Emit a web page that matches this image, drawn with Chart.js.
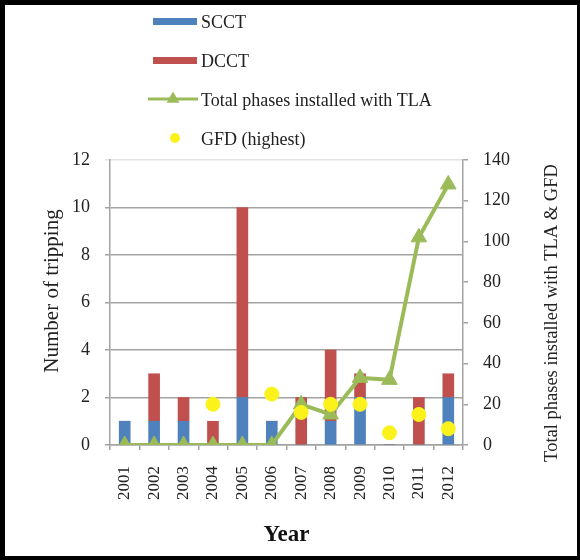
<!DOCTYPE html>
<html lang="en">
<head>
<meta charset="UTF-8">
<title>Tripping and TLA</title>
<style>
  html, body { margin: 0; padding: 0; background: #000; }
  .frame { position: absolute; left: 5px; top: 5px; width: 572px; height: 551px; background: #fff; }
  canvas { display: block; }
</style>
</head>
<body>
<div class="frame">
  <canvas id="grafico" width="572" height="551"></canvas>
</div>

<script src="https://cdn.jsdelivr.net/npm/chart.js"></script>
<script>
// data
const years = ['2001', '2002', '2003', '2004', '2005', '2006', '2007', '2008', '2009', '2010', '2011', '2012'];
const scct = [1, 1, 1, 0, 2, 1, 0, 1, 2, 0, 0, 2];
const dcct = [0, 2, 1, 1, 8, 0, 2, 3, 1, 0, 2, 1];
const tla = [0, 0, 0, 0, 0, 0, 20, 15, 33, 32, 102, 128];
const gfd = [null, null, null, 20, null, 25, 16, 20, 20, 6, 15, 8];
const leftTicks = [0, 2, 4, 6, 8, 10, 12];
const rightTicks = [0, 20, 40, 60, 80, 100, 120, 140];

const serif = "'Liberation Serif', 'Times New Roman', serif";
const blue = '#4f81bd';
const red = '#c0504d';
const green = '#9bbb59';
const yellow = '#fbf21c';
const gridGray = '#a3a3a3';

// legend drawn as a vertical list above the plot, and both y titles read bottom to top
const extras = {
  id: 'extras',
  afterDraw(chart) {
    const ctx = chart.ctx;
    ctx.save();
    ctx.font = '18px ' + serif;
    ctx.fillStyle = '#222';
    ctx.textBaseline = 'middle';
    ctx.textAlign = 'left';
    chart.data.datasets.forEach((ds, i) => {
      const y = 16 + i * 39;
      if (ds.type === 'bar' || !ds.type) {
        ctx.fillStyle = ds.backgroundColor;
        ctx.fillRect(148, y - 3, 44, 7);
      } else if (ds.showLine !== false) {
        ctx.strokeStyle = ds.borderColor;
        ctx.lineWidth = 3;
        ctx.beginPath();
        ctx.moveTo(143, y);
        ctx.lineTo(193, y);
        ctx.stroke();
        ctx.fillStyle = ds.borderColor;
        Chart.helpers.drawPoint(ctx, { pointStyle: 'triangle', radius: 4.5, borderWidth: 1, rotation: 0 }, 168, y);
      } else {
        ctx.fillStyle = ds.backgroundColor;
        ctx.beginPath();
        ctx.arc(170, y, 5, 0, Math.PI * 2);
        ctx.fill();
      }
      ctx.fillStyle = '#222';
      ctx.fillText(ds.label, 196, y + 2);
    });

    ctx.font = '21px ' + serif;
    ctx.textAlign = 'center';
    ctx.translate(47, 286);
    ctx.rotate(-Math.PI / 2);
    ctx.fillText('Number of tripping', 0, 0);
    ctx.restore();

    ctx.save();
    ctx.font = '18.5px ' + serif;
    ctx.fillStyle = '#222';
    ctx.textAlign = 'center';
    ctx.textBaseline = 'middle';
    ctx.translate(547, 308);
    ctx.rotate(-Math.PI / 2);
    ctx.fillText('Total phases installed with TLA & GFD', 0, 0);
    ctx.restore();
  }
};

const ctx = document.getElementById('grafico').getContext('2d');
new Chart(ctx, {
  type: 'bar',
  data: {
    labels: years,
    datasets: [
      { type: 'bar', label: 'SCCT', data: scct, backgroundColor: blue, yAxisID: 'y', order: 2, barThickness: 11 },
      { type: 'bar', label: 'DCCT', data: dcct, backgroundColor: red, yAxisID: 'y', order: 3, barThickness: 11 },
      {
        type: 'line', label: 'Total phases installed with TLA', data: tla, yAxisID: 'y1', order: 1,
        borderColor: green, backgroundColor: green, borderWidth: 4,
        pointStyle: 'triangle', pointRadius: 9, pointBackgroundColor: green, pointBorderColor: green, pointBorderWidth: 1
      },
      {
        type: 'line', label: 'GFD (highest)', data: gfd, yAxisID: 'y1', order: 0, showLine: false,
        backgroundColor: yellow, borderColor: yellow, pointRadius: 7, pointBackgroundColor: yellow, pointBorderColor: yellow
      }
    ]
  },
  options: {
    responsive: false,
    animation: false,
    layout: { padding: { top: 155, left: 0, right: 0, bottom: 0 } },
    plugins: { legend: { display: false }, tooltip: { enabled: false } },
    scales: {
      x: {
        stacked: true,
        afterFit(scale) { scale.height = 111; },
        border: { color: gridGray, width: 1.5 },
        grid: { drawOnChartArea: false, drawTicks: true, tickLength: 5, color: gridGray, lineWidth: 1.5, offset: true },
        ticks: { color: '#222', font: { family: serif, size: 17 }, minRotation: 90, maxRotation: 90, padding: 16 },
        title: { display: true, text: 'Year', color: '#111', font: { family: serif, size: 23, weight: 'bold' }, padding: { top: 0, bottom: 7 } }
      },
      y: {
        stacked: true,
        position: 'left',
        min: 0,
        max: 12,
        afterFit(scale) { scale.width = 105; },
        afterBuildTicks(scale) { scale.ticks = leftTicks.map(v => ({ value: v })); },
        border: { color: gridGray, width: 1.5 },
        grid: {
          color: c => (c.tick && c.tick.value === 12 ? '#e2e2e2' : gridGray),
          lineWidth: 1.5, tickLength: 5
        },
        ticks: { color: '#222', font: { family: serif, size: 18 }, padding: 15 }
      },
      y1: {
        position: 'right',
        min: 0,
        max: 140,
        afterFit(scale) { scale.width = 114; },
        afterBuildTicks(scale) { scale.ticks = rightTicks.map(v => ({ value: v })); },
        border: { color: gridGray, width: 1.5 },
        grid: { drawOnChartArea: false, color: gridGray, lineWidth: 1.5, tickLength: 5 },
        ticks: { color: '#222', font: { family: serif, size: 18 }, padding: 15 }
      }
    }
  },
  plugins: [extras]
});
</script>
</body>
</html>
